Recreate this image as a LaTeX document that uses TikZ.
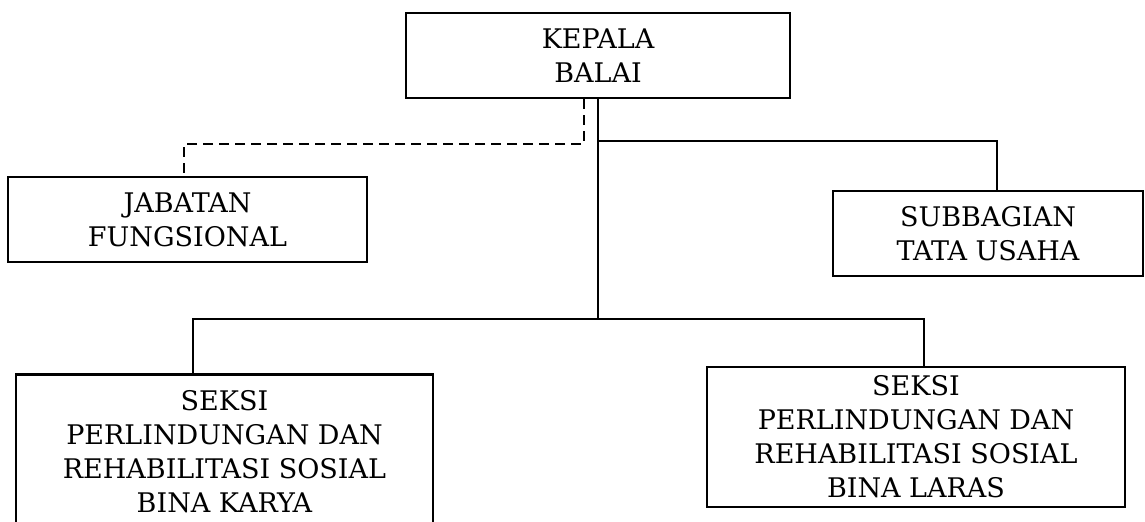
\documentclass[tikz,border=0pt]{standalone}
\usepackage{fontspec}
\setmainfont{DejaVu Serif}

\begin{document}
\begin{tikzpicture}[
  x=0.5pt, y=-0.5pt,
  every node/.style={font=\fontsize{13.5}{17}\selectfont},
  box/.style={draw, line width=1.1pt, align=center, inner sep=0pt},
  conn/.style={line width=1pt},
  dashline/.style={line width=1pt, dash pattern=on 5pt off 3pt}
]
  \useasboundingbox (0,0) rectangle (1145,522);
  \clip (0,0) rectangle (1145,522);

  \node[box, minimum width=192pt, minimum height=42.5pt] (kepala) at (598,55.5) {KEPALA\\BALAI};
  \node[box, minimum width=179.5pt, minimum height=42.5pt] (jabatan) at (187.5,219.5) {JABATAN\\FUNGSIONAL};
  \node[box, minimum width=155pt, minimum height=42.5pt] (subbag) at (988,233.5) {SUBBAGIAN\\TATA USAHA};
  \node[box, minimum width=208.5pt, minimum height=77.5pt] (seksikarya) at (224.5,452) {SEKSI\\PERLINDUNGAN DAN\\REHABILITASI SOSIAL\\BINA KARYA};
  \node[box, minimum width=209pt, minimum height=70pt] (seksilaras) at (916,437) {SEKSI\\PERLINDUNGAN DAN\\REHABILITASI SOSIAL\\BINA LARAS};

  \draw[conn] (kepala.south) -- ++(0,220) coordinate (split);
  \draw[conn] ([shift={(-31.5,0)}]seksikarya.north) |- (split) -| ([shift={(8,0)}]seksilaras.north);
  \draw[conn] (kepala.south |- 0,141) -| ([shift={(9,0)}]subbag.north);
  \draw[dashline] ([shift={(-14,0)}]kepala.south) -- ++(0,45) -| ([shift={(-3.5,0)}]jabatan.north);
\end{tikzpicture}
\end{document}
